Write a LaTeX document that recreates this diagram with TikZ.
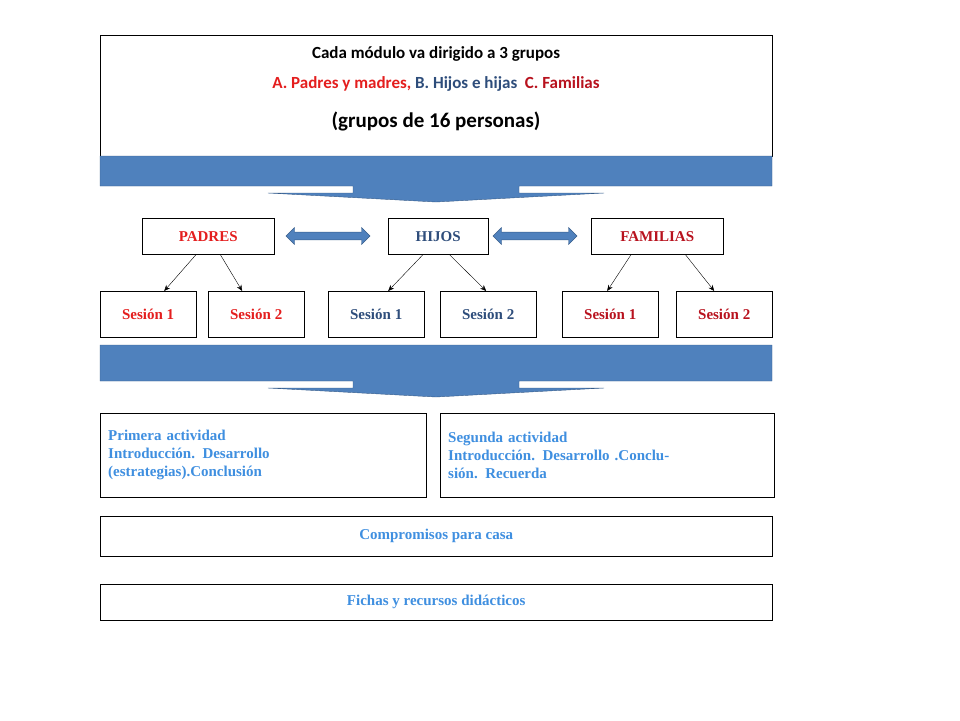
\documentclass[tikz,border=0pt]{standalone}
\usepackage{fontspec}
\setmainfont{Liberation Serif}
\newfontfamily\calibri{Carlito}
\usetikzlibrary{arrows.meta,shapes.arrows,positioning}
\definecolor{bandblue}{HTML}{4F81BD}
\definecolor{bandedge}{HTML}{385D8A}
\definecolor{padred}{HTML}{E41E1E}
\definecolor{hijblue}{HTML}{2E4D7B}
\definecolor{famred}{HTML}{B8121E}
\definecolor{txtblue}{HTML}{3F8FE0}

\begin{document}
\begin{tikzpicture}[
        x=1pt, y=-1pt,
        box/.style={draw, thin, fill=white, inner sep=0pt, anchor=north west},
        group node/.style={box, minimum height=36, font=\bfseries\fontsize{15}{17}\selectfont},
        sesion node/.style={box, minimum width=96, minimum height=46, font=\bfseries\fontsize{15}{17}\selectfont},
        act node/.style={box, minimum width=324, minimum height=84, align=left, text width=310,
                inner xsep=8pt, font=\bfseries\fontsize{15}{18}\selectfont, text=txtblue},
        wide node/.style={box, minimum width=672, font=\bfseries\fontsize{15}{17}\selectfont, text=txtblue},
        link/.style={-{Stealth[length=6pt,width=5pt]}, thin},
        swap arrow/.style={double arrow, fill=bandblue, draw=bandedge, minimum height=84pt,
                minimum width=17pt, double arrow head extend=2pt, inner sep=1.5pt},
    ]
    \useasboundingbox (0,0) rectangle (960,720);

    % Band with collapsed arrow below it
    \newcommand*{\BandArrow}[2]{%
        \fill[bandblue, draw=bandedge] (100,#1) -- (772,#1) -- (772,#2) -- (519,#2)
            -- (519,#2+7) -- (604,#2+7) -- (436,#2+16) -- (268,#2+7)
            -- (353,#2+7) -- (353,#2) -- (100,#2) -- cycle;
    }

    % Title box
    \node[box, minimum width=672, minimum height=121] (title) at (100,35) {};
    \BandArrow{156}{186}
    \node[font=\calibri\bfseries\fontsize{17}{20}\selectfont] at (436,54) {Cada módulo va dirigido a 3 grupos};
    \node[font=\calibri\bfseries\fontsize{17}{20}\selectfont] at (436,84)
        {\textcolor{padred}{A. Padres y madres,} \textcolor{hijblue}{B. Hijos e hijas} \ \textcolor{famred}{C. Familias}};
    \node[font=\calibri\bfseries\fontsize{21}{24}\selectfont] at (436,121) {(grupos de 16 personas)};

    % Groups
    \node[group node, minimum width=132, text=padred] (padres) at (142,218) {PADRES};
    \node[group node, minimum width=100, text=hijblue] (hijos) at (388,218) {HIJOS};
    \node[group node, minimum width=132, text=famred] (familias) at (591,218) {FAMILIAS};
    \node[swap arrow] at (328,236) {};
    \node[swap arrow] at (535,236) {};

    % Sessions
    \foreach \x/\n/\t/\c in {100/p1/1/padred, 208/p2/2/padred, 328/h1/1/hijblue,
            440/h2/2/hijblue, 562/f1/1/famred, 676/f2/2/famred}
        \node[sesion node, text=\c] (s\n) at (\x,291) {Sesión \t};

    \draw[link] ([xshift=-12pt]padres.south) -- ([xshift=16pt]sp1.north);
    \draw[link] ([xshift=12pt]padres.south) -- ([xshift=-14pt]sp2.north);
    \draw[link] ([xshift=-15pt]hijos.south) -- ([xshift=12pt]sh1.north);
    \draw[link] ([xshift=11pt]hijos.south) -- ([xshift=-2pt]sh2.north);
    \draw[link] ([xshift=-26pt]familias.south) -- ([xshift=-3pt]sf1.north);
    \draw[link] ([xshift=28pt]familias.south) -- ([xshift=-10pt]sf2.north);

    % Second band
    \BandArrow{345}{381}

    % Activities
    \node[act node] (act1) at (100,413)
        {Primera actividad\\Introducción. Desarrollo\\(estrategias).Conclusión};
    \node[act node, minimum width=332, text width=318] (act2) at (440,413)
        {Segunda actividad\\Introducción. Desarrollo .Conclu-\\sión. Recuerda};
    \node[wide node, minimum height=40] (casa) at (100,516) {Compromisos para casa};
    \node[wide node, minimum height=36] (fichas) at (100,584) {Fichas y recursos didácticos};
\end{tikzpicture}
\end{document}
